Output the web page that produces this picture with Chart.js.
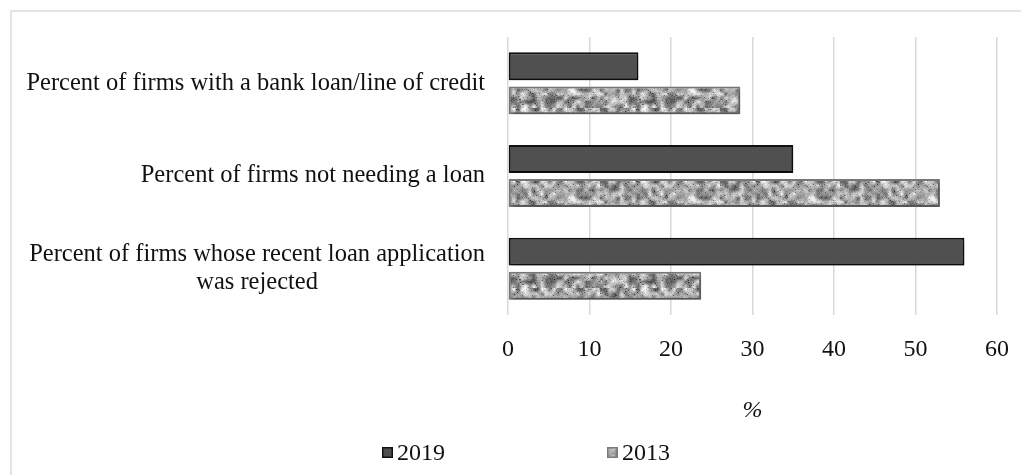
<!DOCTYPE html>
<html>
<head>
<meta charset="utf-8">
<script src="https://cdn.jsdelivr.net/npm/chart.js@4.4.1/dist/chart.umd.min.js"></script>
<style>
  html, body { margin: 0; padding: 0; background: #ffffff; }
  #wrap { position: relative; width: 1021px; height: 475px; overflow: hidden; }
  #frame { position: absolute; left: 10px; top: 10px; width: 1040px; height: 520px;
           border-top: 2px solid #e4e4e4; border-left: 2px solid #e4e4e4;
           box-sizing: border-box; pointer-events: none; }
  canvas { position: absolute; left: 0; top: 0; }
</style>
</head>
<body>
<div id="wrap">
  <canvas id="chart" width="1021" height="475"></canvas>
  <div id="frame"></div>
</div>
<script>
// Survey indicators (each label split into its drawn lines)
const categories = [
  ['Percent of firms with a bank loan/line of credit'],
  ['Percent of firms not needing a loan'],
  ['Percent of firms whose recent loan application', 'was rejected']
];
const seriesNames = ['2019', '2013'];
const values2019 = [16, 35, 56];
const values2013 = [28.5, 53, 23.7];
const xTickValues = [0, 10, 20, 30, 40, 50, 60];
const axisTitle = '%';

const FONT = "'Liberation Serif', 'Times New Roman', serif";
const canvas = document.getElementById('chart');
const ctx = canvas.getContext('2d');

// Mottled grey fill used for the 2013 bars
function makeSpeckle() {
  let seed = 20130;
  const rnd = () => { seed = (seed * 1103515245 + 12345) & 0x7fffffff; return seed / 0x7fffffff; };
  const sw = 30, sh = 9, tw = 120, th = 36;
  const small = document.createElement('canvas');
  small.width = sw; small.height = sh;
  const sctx = small.getContext('2d');
  const simg = sctx.createImageData(sw, sh);
  for (let i = 0; i < sw * sh; i++) {
    const v = 85 + Math.floor(rnd() * 160);
    simg.data[i * 4] = v; simg.data[i * 4 + 1] = v; simg.data[i * 4 + 2] = v; simg.data[i * 4 + 3] = 255;
  }
  sctx.putImageData(simg, 0, 0);
  const tex = document.createElement('canvas');
  tex.width = tw; tex.height = th;
  const tctx = tex.getContext('2d');
  tctx.imageSmoothingEnabled = true;
  tctx.drawImage(small, 0, 0, tw, th);
  const img = tctx.getImageData(0, 0, tw, th);
  for (let i = 0; i < tw * th; i++) {
    let d = Math.floor((rnd() - 0.5) * 40);
    if (rnd() < 0.03) d -= 70;
    for (let k = 0; k < 3; k++) {
      img.data[i * 4 + k] = Math.max(0, Math.min(255, img.data[i * 4 + k] + d));
    }
  }
  tctx.putImageData(img, 0, 0);
  return ctx.createPattern(tex, 'repeat');
}
const speckle = makeSpeckle();

// Soft drop shadow under the bars
const barShadow = {
  id: 'barShadow',
  beforeDatasetsDraw(chart) {
    const c = chart.ctx;
    c.save();
    c.shadowColor = 'rgba(0,0,0,0.35)';
    c.shadowBlur = 4;
    c.shadowOffsetX = 2;
    c.shadowOffsetY = 3;
  },
  afterDatasetsDraw(chart) { chart.ctx.restore(); }
};

// Category labels: right-aligned block, lines centred within the block
const categoryLabels = {
  id: 'categoryLabels',
  afterDraw(chart) {
    const c = chart.ctx;
    const y = chart.scales.y;
    const right = chart.chartArea.left - 23;
    const lineH = 28;
    c.save();
    c.font = '24.5px ' + FONT;
    c.fillStyle = '#111111';
    c.textAlign = 'center';
    c.textBaseline = 'middle';
    categories.forEach((lines, i) => {
      const cy = y.getPixelForValue(i);
      const maxW = Math.max(...lines.map(l => c.measureText(l).width));
      const cx = right - maxW / 2;
      lines.forEach((line, k) => {
        c.fillText(line, cx, cy - (lines.length - 1) * lineH / 2 + k * lineH);
      });
    });
    c.restore();
  }
};

// Legend row under the axis title
const legendRow = {
  id: 'legendRow',
  afterDraw(chart) {
    const c = chart.ctx;
    const items = [
      { x: 382, fill: '#505050', stroke: '#111111' },
      { x: 607, fill: speckle, stroke: '#7a7a7a' }
    ];
    const cy = 453;
    c.save();
    c.font = '24px ' + FONT;
    c.textBaseline = 'middle';
    c.textAlign = 'left';
    items.forEach((it, i) => {
      c.fillStyle = it.fill;
      c.fillRect(it.x, cy - 6, 11, 11);
      c.strokeStyle = it.stroke;
      c.lineWidth = 1.5;
      c.strokeRect(it.x + 0.75, cy - 5.25, 9.5, 9.5);
      c.fillStyle = '#111111';
      c.fillText(seriesNames[i], it.x + 15, cy + 1);
    });
    c.restore();
  }
};

new Chart(ctx, {
  type: 'bar',
  data: {
    labels: categories,
    datasets: [
      {
        label: seriesNames[0],
        data: values2019,
        backgroundColor: '#505050',
        borderColor: '#111111',
        borderWidth: 2,
        borderSkipped: false,
        barPercentage: 0.82,
        categoryPercentage: 0.735
      },
      {
        label: seriesNames[1],
        data: values2013,
        backgroundColor: speckle,
        borderColor: '#787878',
        borderWidth: 2,
        borderSkipped: false,
        barPercentage: 0.82,
        categoryPercentage: 0.735
      }
    ]
  },
  options: {
    indexAxis: 'y',
    responsive: false,
    animation: false,
    layout: { padding: { top: 37, right: 24, bottom: 0, left: 0 } },
    plugins: {
      legend: { display: false },
      tooltip: { enabled: false }
    },
    scales: {
      x: {
        min: xTickValues[0],
        max: xTickValues[xTickValues.length - 1],
        afterBuildTicks(scale) { scale.ticks = xTickValues.map(v => ({ value: v })); },
        afterFit(scale) { scale.height = 160; },
        grid: {
          color: '#d9d9d9',
          lineWidth: 1.5,
          drawTicks: true,
          tickLength: 16,
          tickColor: 'rgba(0,0,0,0)'
        },
        border: { display: false },
        ticks: {
          font: { family: FONT, size: 24 },
          color: '#111111',
          padding: 4,
          maxRotation: 0
        },
        title: {
          display: true,
          text: axisTitle,
          font: { family: FONT, size: 24, style: 'italic' },
          color: '#111111',
          padding: { top: 0, bottom: 50 }
        }
      },
      y: {
        afterFit(scale) { scale.width = 508; },
        grid: { display: false },
        border: { display: false },
        ticks: { display: false }
      }
    }
  },
  plugins: [barShadow, categoryLabels, legendRow]
});
</script>
</body>
</html>
